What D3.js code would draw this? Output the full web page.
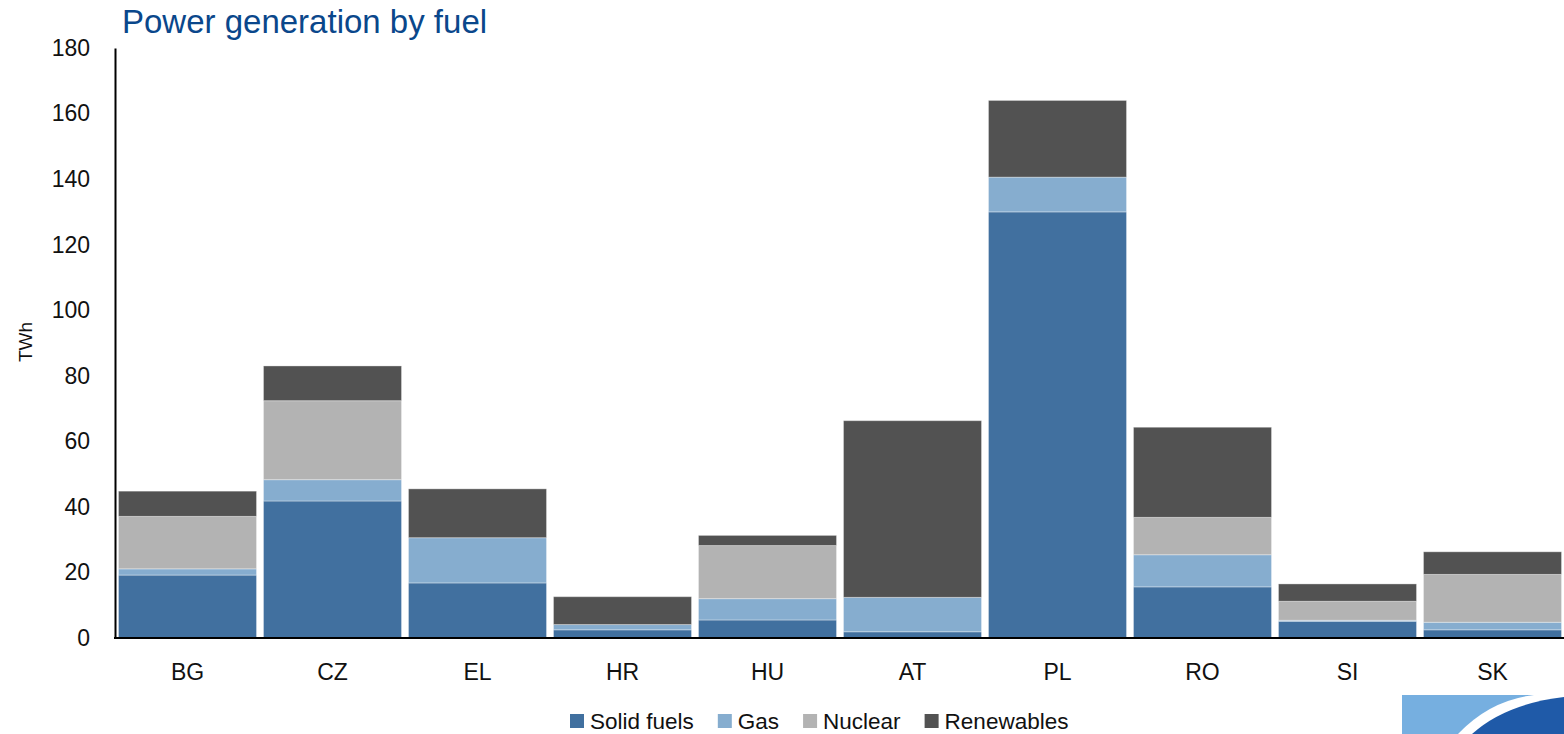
<!DOCTYPE html>
<html>
<head>
<meta charset="utf-8">
<script src="https://cdn.jsdelivr.net/npm/d3@7"></script>
<style>
  html, body { margin: 0; padding: 0; background: #fff; }
  svg { display: block; font-family: "Liberation Sans", Arial, Helvetica, sans-serif; }
</style>
</head>
<body>
<svg id="chart" width="1564" height="734"></svg>
<script>
// ---- data ----
const categories = ["BG", "CZ", "EL", "HR", "HU", "AT", "PL", "RO", "SI", "SK"];
const seriesNames = ["Solid fuels", "Gas", "Nuclear", "Renewables"];
const solidFuels = [19.2, 41.8, 16.8, 2.5, 5.5, 1.9, 130.0, 15.6, 5.1, 2.5];
const gas        = [1.9, 6.5, 13.8, 1.6, 6.5, 10.5, 10.6, 9.8, 0.3, 2.3];
const nuclear    = [16.0, 24.1, 0, 0, 16.2, 0, 0, 11.4, 5.8, 14.6];
const renewables = [7.7, 10.6, 14.9, 8.5, 3.1, 53.9, 23.4, 27.5, 5.3, 6.9];
const yTicks = [0, 20, 40, 60, 80, 100, 120, 140, 160, 180];
const colors = ["#41709f", "#86adcf", "#b3b3b3", "#525252"];
const titleText = "Power generation by fuel";
const yLabel = "TWh";

// ---- build table ----
const seriesValues = [solidFuels, gas, nuclear, renewables];
const table = categories.map((c, i) => {
  const row = { cat: c };
  seriesNames.forEach((s, j) => row[s] = seriesValues[j][i]);
  return row;
});
const stacked = d3.stack().keys(seriesNames)(table);

const svg = d3.select("#chart");
const x = d3.scaleBand().domain(categories).range([115, 1565]).paddingInner(0.048).paddingOuter(0.024);
const y = d3.scaleLinear().domain([0, 180]).range([638, 48]);
const color = d3.scaleOrdinal().domain(seriesNames).range(colors);

// bars
svg.append("g").selectAll("g")
  .data(stacked).join("g")
  .attr("fill", d => color(d.key))
  .selectAll("rect")
  .data(d => d).join("rect")
  .attr("x", d => x(d.data.cat))
  .attr("width", x.bandwidth())
  .attr("y", d => y(d[1]))
  .attr("height", d => Math.max(0, y(d[0]) - y(d[1])))
  .attr("stroke", "rgba(255,255,255,0.35)")
  .attr("stroke-width", 1);

// y axis
const yAxis = svg.append("g")
  .attr("transform", "translate(115,0)")
  .call(d3.axisLeft(y).tickValues(yTicks).tickSize(0).tickSizeOuter(0).tickPadding(25));
yAxis.select(".domain").attr("stroke", "#000").attr("stroke-width", 2);
yAxis.selectAll("text").attr("font-size", 23).attr("fill", "#111")
  .attr("font-family", "'Liberation Sans', Arial, sans-serif");

// x axis
const xAxis = svg.append("g")
  .attr("transform", "translate(0,638)")
  .call(d3.axisBottom(x).tickSize(0).tickSizeOuter(0));
xAxis.select(".domain").attr("stroke", "#000").attr("stroke-width", 2.2)
  .attr("d", "M114,0H1564");
xAxis.selectAll("text").attr("font-size", 23).attr("fill", "#111")
  .attr("font-family", "'Liberation Sans', Arial, sans-serif")
  .attr("y", 34).attr("dy", "0.35em");

// y label
svg.append("text")
  .attr("transform", "translate(32,342) rotate(-90)")
  .attr("text-anchor", "middle")
  .attr("font-size", 19)
  .attr("fill", "#111")
  .text(yLabel);

// title
svg.append("text")
  .attr("x", 122).attr("y", 33)
  .attr("font-size", 33)
  .attr("fill", "#0a478b")
  .text(titleText);

// legend
const legend = svg.append("g");
let lx = 570;
seriesNames.forEach((s, i) => {
  legend.append("rect").attr("x", lx).attr("y", 714).attr("width", 14).attr("height", 14).attr("fill", colors[i]);
  const t = legend.append("text").attr("x", lx + 20).attr("y", 729)
    .attr("font-size", 22.5).attr("fill", "#111").text(s);
  lx += 20 + t.node().getComputedTextLength() + 24;
});

// logo (bottom right decoration)
const logo = svg.append("g");
logo.append("rect").attr("x", 1402).attr("y", 695).attr("width", 162).attr("height", 39).attr("fill", "#76afe0");
logo.append("path").attr("d", "M1458,734 Q1490,700 1534,695 L1564,695 L1564,734 Z").attr("fill", "#fff");
logo.append("path").attr("d", "M1472,734 Q1505,704 1564,697 L1564,734 Z").attr("fill", "#1f5aa8");
</script>
</body>
</html>
